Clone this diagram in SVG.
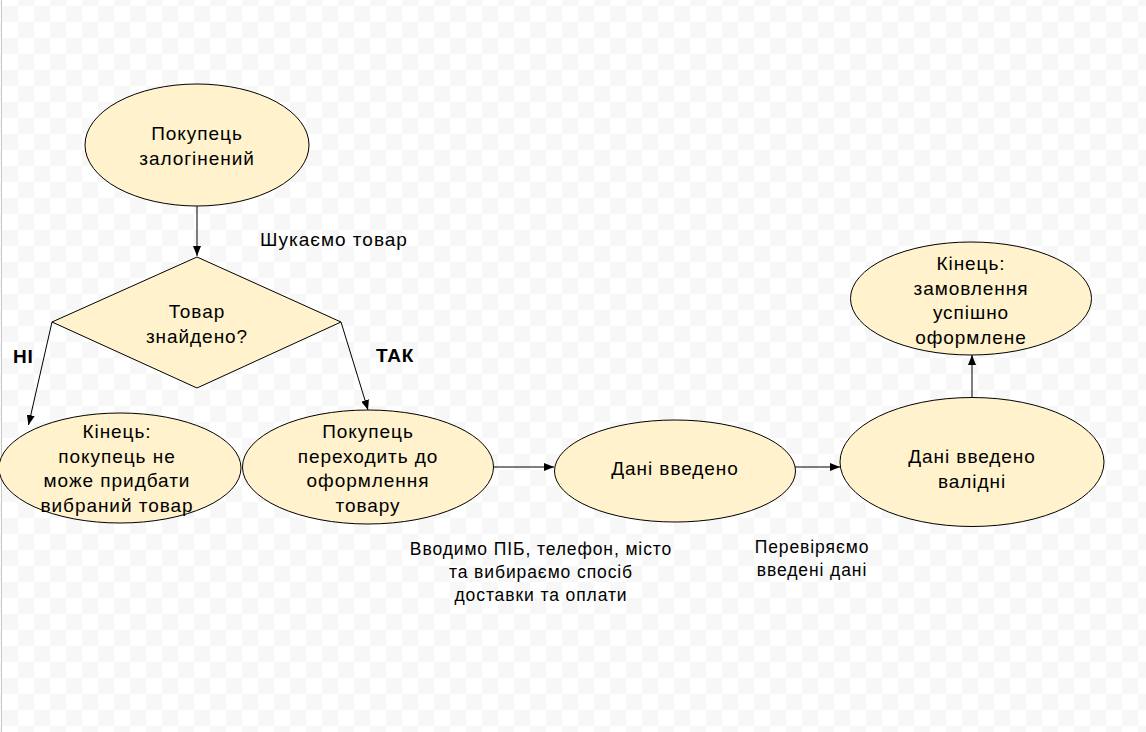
<svg xmlns="http://www.w3.org/2000/svg" width="1146" height="732" viewBox="0 0 1146 732">
  <defs>
    <pattern id="checker" x="2" y="6" width="32" height="32" patternUnits="userSpaceOnUse">
      <rect width="32" height="32" fill="#ffffff"/>
      <rect width="16" height="16" fill="#f7f7f7"/>
      <rect x="16" y="16" width="16" height="16" fill="#f7f7f7"/>
    </pattern>
    <marker id="arrow" viewBox="0 0 10 8" refX="10" refY="4" markerWidth="10" markerHeight="8" markerUnits="userSpaceOnUse" orient="auto">
      <path d="M0,0 L10,4 L0,8 Z" fill="#000"/>
    </marker>
    <style>
      .shape { fill: #fff2cc; stroke: #000; stroke-width: 1; }
      .node-text { font-family: "Liberation Sans", Arial, sans-serif; font-size: 19px; letter-spacing: 0.95px; fill: #000; text-anchor: middle; }
      .edge-label { font-family: "Liberation Sans", Arial, sans-serif; font-size: 17.5px; letter-spacing: 0.9px; fill: #000; text-anchor: middle; }
      .search-label { font-family: "Liberation Sans", Arial, sans-serif; font-size: 19px; letter-spacing: 1px; fill: #000; text-anchor: middle; }
      .branch-label { font-family: "Liberation Sans", Arial, sans-serif; font-size: 19px; font-weight: bold; letter-spacing: 0.8px; fill: #000; }
      .edge { fill: none; stroke: #000; stroke-width: 1; marker-end: url(#arrow); }
    </style>
  </defs>

  <!-- canvas background -->
  <rect width="1146" height="732" fill="url(#checker)"/>
  <line x1="1.5" y1="0" x2="1.5" y2="732" stroke="#c8c8c8" stroke-width="1"/>

  <!-- connectors -->
  <g id="connectors">
    <path class="edge" d="M197,206 L197,256"/>
    <path class="edge" d="M52,322 L28.5,425"/>
    <path class="edge" d="M341,322 L368,410"/>
    <path class="edge" d="M494,467 L554,467"/>
    <path class="edge" d="M795,467 L840,467"/>
    <path class="edge" d="M972,398 L972,355"/>
  </g>

  <!-- connector labels -->
  <g id="edge-labels">
    <text class="search-label" x="334" y="246">Шукаємо товар</text>
    <text class="branch-label" x="13" y="363">НІ</text>
    <text class="branch-label" x="376" y="362">ТАК</text>
    <text class="edge-label" x="541" y="555">Вводимо ПІБ, телефон, місто</text>
    <text class="edge-label" x="541" y="578">та вибираємо спосіб</text>
    <text class="edge-label" x="541" y="601">доставки та оплати</text>
    <text class="edge-label" x="812" y="553">Перевіряємо</text>
    <text class="edge-label" x="812" y="576">введені дані</text>
  </g>

  <g id="start">
    <ellipse class="shape" cx="197" cy="145" rx="112" ry="61"/>
    <text class="node-text" x="197" y="139.5">Покупець</text>
    <text class="node-text" x="197" y="164.5">залогінений</text>
  </g>

  <g id="decision">
    <polygon class="shape" points="197,257 341,322 197,388 52,322"/>
    <text class="node-text" x="197" y="318">Товар</text>
    <text class="node-text" x="197" y="343">знайдено?</text>
  </g>

  <g id="end-fail">
    <ellipse class="shape" cx="120" cy="468" rx="121" ry="55"/>
    <text class="node-text" x="117" y="438">Кінець:</text>
    <text class="node-text" x="117" y="462.5">покупець не</text>
    <text class="node-text" x="117" y="487">може придбати</text>
    <text class="node-text" x="117" y="511.5">вибраний товар</text>
  </g>

  <g id="checkout">
    <ellipse class="shape" cx="368" cy="467" rx="125.5" ry="57"/>
    <text class="node-text" x="368" y="438">Покупець</text>
    <text class="node-text" x="368" y="462.5">переходить до</text>
    <text class="node-text" x="368" y="487">оформлення</text>
    <text class="node-text" x="368" y="511.5">товару</text>
  </g>

  <g id="data-entered">
    <ellipse class="shape" cx="675" cy="471" rx="120.5" ry="51"/>
    <text class="node-text" x="675" y="475">Дані введено</text>
  </g>

  <g id="data-valid">
    <ellipse class="shape" cx="972" cy="462" rx="132" ry="64.5"/>
    <text class="node-text" x="972" y="463">Дані введено</text>
    <text class="node-text" x="972" y="488">валідні</text>
  </g>

  <g id="end-success">
    <ellipse class="shape" cx="971" cy="298.5" rx="120.5" ry="56.5"/>
    <text class="node-text" x="971" y="269.5">Кінець:</text>
    <text class="node-text" x="971" y="294.5">замовлення</text>
    <text class="node-text" x="971" y="319">успішно</text>
    <text class="node-text" x="971" y="343.5">оформлене</text>
  </g>
</svg>
